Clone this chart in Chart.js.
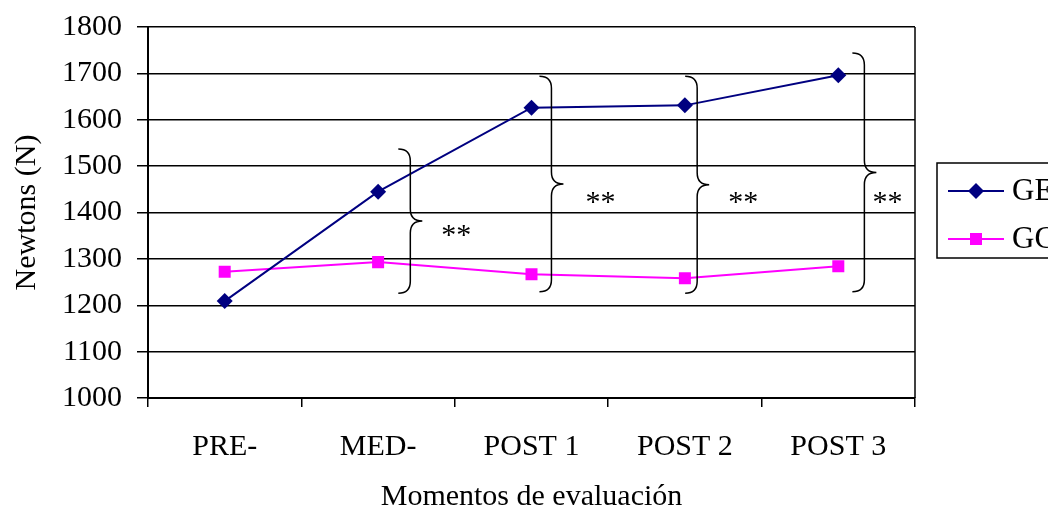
<!DOCTYPE html>
<html>
<head>
<meta charset="utf-8">
<title>Newtons (N) - Momentos de evaluación</title>
<script src="https://cdn.jsdelivr.net/npm/chart.js@4/dist/chart.umd.min.js"></script>
<style>
  html, body { margin: 0; padding: 0; background: #fff; overflow: hidden; }
</style>
</head>
<body>
<canvas id="chart" width="1048" height="515"></canvas>
<script>
// data
var momentos = ['PRE-', 'MED-', 'POST 1', 'POST 2', 'POST 3'];
var ge = [1209, 1445, 1626, 1631, 1696];
var gc = [1272, 1293, 1267, 1258, 1284];
var seriesNames = ['GE', 'GC'];
var yMin = 1000, yMax = 1800, yStep = 100;

// significance braces: category position, from value, to value
var llaveX = [1.21, 2.13, 3.08, 4.17];
var llaveFrom = [1226, 1229, 1226, 1229];
var llaveTo = [1537, 1694, 1694, 1744];
// "**" marks: category position, value
var starX = [1.51, 2.45, 3.38, 4.32];
var starY = [1362, 1433, 1433, 1433];

var serif = '"Liberation Serif", "Times New Roman", serif';
var navy = '#000080';
var magenta = '#ff00ff';

// right edge of the plot box
var boxBorder = {
  id: 'boxBorder',
  afterDraw: function(chart) {
    var a = chart.chartArea, ctx = chart.ctx;
    ctx.save();
    ctx.strokeStyle = '#000';
    ctx.lineWidth = 1.5;
    ctx.beginPath();
    ctx.moveTo(a.right, a.top);
    ctx.lineTo(a.right, a.bottom);
    ctx.stroke();
    ctx.restore();
  }
};

// curly braces and asterisks
var llaves = {
  id: 'llaves',
  afterDraw: function(chart) {
    var ctx = chart.ctx, xs = chart.scales.x, ys = chart.scales.y;
    ctx.save();
    ctx.strokeStyle = '#000';
    ctx.lineWidth = 1.5;
    for (var i = 0; i < llaveX.length; i++) {
      var x = xs.getPixelForValue(llaveX[i]);
      var top = ys.getPixelForValue(llaveTo[i]);
      var bot = ys.getPixelForValue(llaveFrom[i]);
      var mid = (top + bot) / 2;
      var w = 12, r = 12;
      ctx.beginPath();
      ctx.moveTo(x - w, top);
      ctx.quadraticCurveTo(x, top, x, top + r);
      ctx.lineTo(x, mid - r);
      ctx.quadraticCurveTo(x, mid, x + w, mid);
      ctx.quadraticCurveTo(x, mid, x, mid + r);
      ctx.lineTo(x, bot - r);
      ctx.quadraticCurveTo(x, bot, x - w, bot);
      ctx.stroke();
    }
    ctx.fillStyle = '#000';
    ctx.font = '30px ' + serif;
    ctx.textAlign = 'center';
    ctx.textBaseline = 'middle';
    for (var j = 0; j < starX.length; j++) {
      ctx.fillText('**', xs.getPixelForValue(starX[j]), ys.getPixelForValue(starY[j]) + 6);
    }
    ctx.restore();
  }
};

// boxed legend at the right, cut by the edge as in the original
var boxLegend = {
  id: 'boxLegend',
  afterDraw: function(chart) {
    var ctx = chart.ctx, a = chart.chartArea;
    var left = a.right + 22, top = 163;
    ctx.save();
    ctx.strokeStyle = '#000';
    ctx.lineWidth = 1.5;
    ctx.strokeRect(left, top, 200, 95);
    chart.data.datasets.forEach(function(ds, i) {
      var y = top + 28 + i * 48;
      ctx.strokeStyle = ds.borderColor;
      ctx.lineWidth = 2;
      ctx.beginPath();
      ctx.moveTo(left + 11, y);
      ctx.lineTo(left + 67, y);
      ctx.stroke();
      ctx.fillStyle = ds.backgroundColor;
      Chart.helpers.drawPoint(ctx, {pointStyle: ds.pointStyle, radius: ds.pointRadius, borderWidth: 0}, left + 39, y);
      ctx.fillStyle = '#000';
      ctx.font = '31px ' + serif;
      ctx.textAlign = 'left';
      ctx.textBaseline = 'middle';
      ctx.fillText(ds.label, left + 75, y + 1);
    });
    ctx.restore();
  }
};

new Chart(document.getElementById('chart'), {
  type: 'line',
  data: {
    labels: momentos,
    datasets: [
      {
        label: seriesNames[0],
        data: ge,
        borderColor: navy,
        backgroundColor: navy,
        borderWidth: 2,
        pointStyle: 'rectRot',
        pointRadius: 8,
        pointBorderWidth: 0,
        tension: 0
      },
      {
        label: seriesNames[1],
        data: gc,
        borderColor: magenta,
        backgroundColor: magenta,
        borderWidth: 2,
        pointStyle: 'rect',
        pointRadius: 8.5,
        pointBorderWidth: 0,
        tension: 0
      }
    ]
  },
  options: {
    responsive: false,
    animation: false,
    layout: { padding: { top: 27, right: 133, left: 0, bottom: 0 } },
    plugins: { legend: { display: false }, tooltip: { enabled: false } },
    scales: {
      x: {
        type: 'category',
        offset: true,
        grid: { offset: true, drawOnChartArea: false, drawTicks: true, tickLength: 9, color: '#000', lineWidth: 1.5 },
        border: { color: '#000', width: 2 },
        ticks: { color: '#000', font: { family: serif, size: 30 }, padding: 22, maxRotation: 0, autoSkip: false },
        title: { display: true, text: 'Momentos de evaluación', color: '#000', font: { family: serif, size: 30 }, padding: { top: 0, bottom: 0 } },
        afterFit: function(s) { s.height = 117; }
      },
      y: {
        min: yMin,
        max: yMax,
        ticks: {
          stepSize: yStep, color: '#000', font: { family: serif, size: 30 }, padding: 15,
          callback: function(v) { return String(v); }
        },
        grid: { color: '#000', lineWidth: 1.5, tickLength: 11 },
        border: { color: '#000', width: 2 },
        title: { display: true, text: 'Newtons (N)', color: '#000', font: { family: serif, size: 30 }, padding: { top: 9, bottom: 0 } },
        afterFit: function(s) { s.width = 148; s.paddingTop = 0; s.paddingBottom = 0; }
      }
    }
  },
  plugins: [boxBorder, llaves, boxLegend]
});
</script>
</body>
</html>
